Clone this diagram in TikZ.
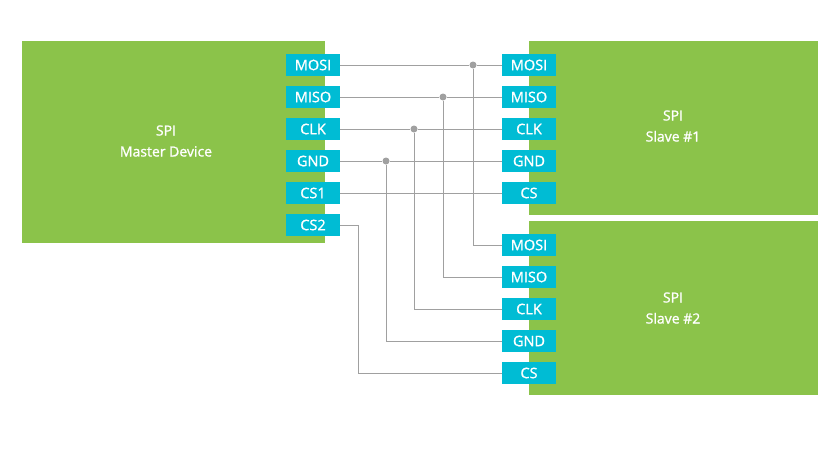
\documentclass[tikz,border=0pt]{standalone}
\usepackage{fontspec}
\setmainfont{Open Sans}
\newfontfamily\pinfont[FakeBold=1.2]{Open Sans}
\definecolor{grn}{HTML}{8BC34A}
\definecolor{pin}{HTML}{00BCD4}
\definecolor{wire}{HTML}{A0A0A0}
\begin{document}
\begin{tikzpicture}[x=1pt,y=-1pt,
  pin/.style={fill=pin,draw=none,minimum width=54pt,minimum height=22pt,inner sep=0,text=white,font=\pinfont\fontsize{14.5}{15}\selectfont},
  lbl/.style={text=white,align=center,font=\pinfont\fontsize{14}{21}\selectfont},
  w/.style={draw=wire,line width=1pt},
  dot/.style={circle,fill=wire,inner sep=0,minimum size=7pt}]
\fill[white] (0,0) rectangle (840,450);
\useasboundingbox (0,0) rectangle (840,450);
\fill[grn] (22,41) rectangle (325,243);
\fill[grn] (529,41) rectangle (818,215);
\fill[grn] (529,221) rectangle (818,395);
\node[lbl] (mt) at (166,141) {SPI\\Master Device};
\node[lbl] (s1t) at (673,126) {SPI\\Slave \#1};
\node[lbl] (s2t) at (673,308) {SPI\\Slave \#2};
\foreach \n/\t/\y in {mmosi/MOSI/65,mmiso/MISO/97,mclk/CLK/129,mgnd/GND/161,mcs1/CS1/193,mcs2/CS2/225}
  \node[pin] (\n) at (313,\y) {\t};
\foreach \n/\t/\y in {amosi/MOSI/65,amiso/MISO/97,aclk/CLK/129,agnd/GND/161,acs/CS/193}
  \node[pin] (\n) at (529,\y) {\t};
\foreach \n/\t/\y in {bmosi/MOSI/245,bmiso/MISO/277,bclk/CLK/309,bgnd/GND/341,bcs/CS/373}
  \node[pin] (\n) at (529,\y) {\t};
\node[dot] (j1) at (473,65) {};
\node[dot] (j2) at (443,97) {};
\node[dot] (j3) at (414,129) {};
\node[dot] (j4) at (386,161) {};
\draw[w] (mmosi) -- (j1) -- (amosi);
\draw[w] (mmiso) -- (j2) -- (amiso);
\draw[w] (mclk) -- (j3) -- (aclk);
\draw[w] (mgnd) -- (j4) -- (agnd);
\draw[w] (mcs1) -- (acs);
\draw[w] (j1) |- (bmosi);
\draw[w] (j2) |- (bmiso);
\draw[w] (j3) |- (bclk);
\draw[w] (j4) |- (bgnd);
\coordinate (c2) at (358,225);
\draw[w] (mcs2) -- (c2) |- (bcs);
\end{tikzpicture}
\end{document}
